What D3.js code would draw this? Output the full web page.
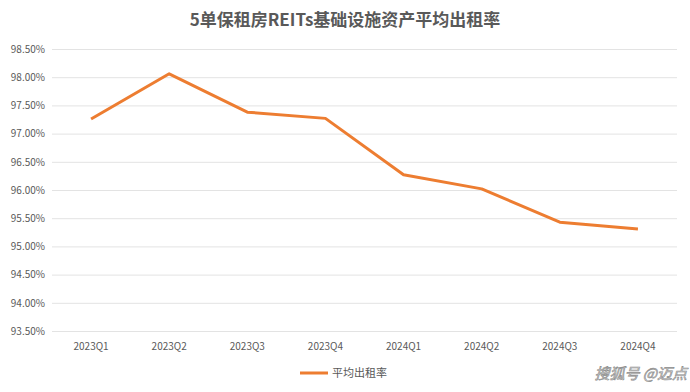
<!DOCTYPE html>
<html>
  <head>
    <meta charset="utf-8" />
    <style>
      body { margin: 0; background: #fff; }
      text { font-family: "Noto Sans CJK SC", "Open Sans", sans-serif; }
    </style>
  </head>
  <body>
    <svg width="690" height="392"></svg>
    <script src="https://d3js.org/d3.v7.min.js"></script>
    <script>
      var quarters = ["2023Q1", "2023Q2", "2023Q3", "2023Q4", "2024Q1", "2024Q2", "2024Q3", "2024Q4"];
      var occupancy = [97.26, 98.06, 97.38, 97.27, 96.27, 96.02, 95.43, 95.31];
      var yTicks = [93.5, 94, 94.5, 95, 95.5, 96, 96.5, 97, 97.5, 98, 98.5];

      var svg = d3.select("svg");
      var plotLeft = 52, plotRight = 677, plotTop = 49, plotBottom = 331;

      var x = d3.scaleBand().domain(quarters).range([plotLeft, plotRight]);
      var y = d3.scaleLinear().domain([93.5, 98.5]).range([plotBottom, plotTop]);

      // title
      svg.append("text")
        .attr("x", 345)
        .attr("y", 26)
        .attr("text-anchor", "middle")
        .attr("fill", "#595959")
        .style("font-size", "17px")
        .style("font-weight", "bold")
        .text("5单保租房REITs基础设施资产平均出租率");

      // gridlines + y labels
      var yAxis = svg.append("g")
        .attr("transform", "translate(" + plotLeft + ",0)")
        .call(d3.axisLeft(y).tickValues(yTicks).tickSize(-(plotRight - plotLeft)).tickPadding(7)
          .tickFormat(function (d) { return d.toFixed(2) + "%"; }));
      yAxis.select(".domain").remove();
      yAxis.selectAll(".tick line").attr("stroke", "#e3e3e3");
      yAxis.selectAll(".tick text").attr("fill", "#595959").style("font-size", "10px");

      // x labels
      var xAxis = svg.append("g")
        .attr("transform", "translate(0," + plotBottom + ")")
        .call(d3.axisBottom(x).tickSize(0).tickPadding(12));
      xAxis.select(".domain").remove();
      xAxis.selectAll(".tick text").attr("fill", "#595959").style("font-size", "10px");

      // line
      var line = d3.line()
        .x(function (d, i) { return x(quarters[i]) + x.bandwidth() / 2; })
        .y(function (d) { return y(d); });

      svg.append("path")
        .datum(occupancy)
        .attr("d", line)
        .attr("fill", "none")
        .attr("stroke", "#ed7d31")
        .attr("stroke-width", 3)
        .attr("stroke-linejoin", "round");

      // legend
      svg.append("line")
        .attr("x1", 300).attr("x2", 328)
        .attr("y1", 373).attr("y2", 373)
        .attr("stroke", "#ed7d31")
        .attr("stroke-width", 3);
      svg.append("text")
        .attr("x", 332)
        .attr("y", 377)
        .attr("fill", "#595959")
        .style("font-size", "11px")
        .text("平均出租率");

      // watermark
      svg.append("text")
        .attr("x", 687)
        .attr("y", 379)
        .attr("text-anchor", "end")
        .attr("fill", "#e0e0e0")
        .attr("stroke", "#8a8a8a")
        .attr("stroke-width", 0.6)
        .style("font-size", "15px")
        .style("font-style", "italic")
        .text("搜狐号 @迈点");
    </script>
  </body>
</html>
